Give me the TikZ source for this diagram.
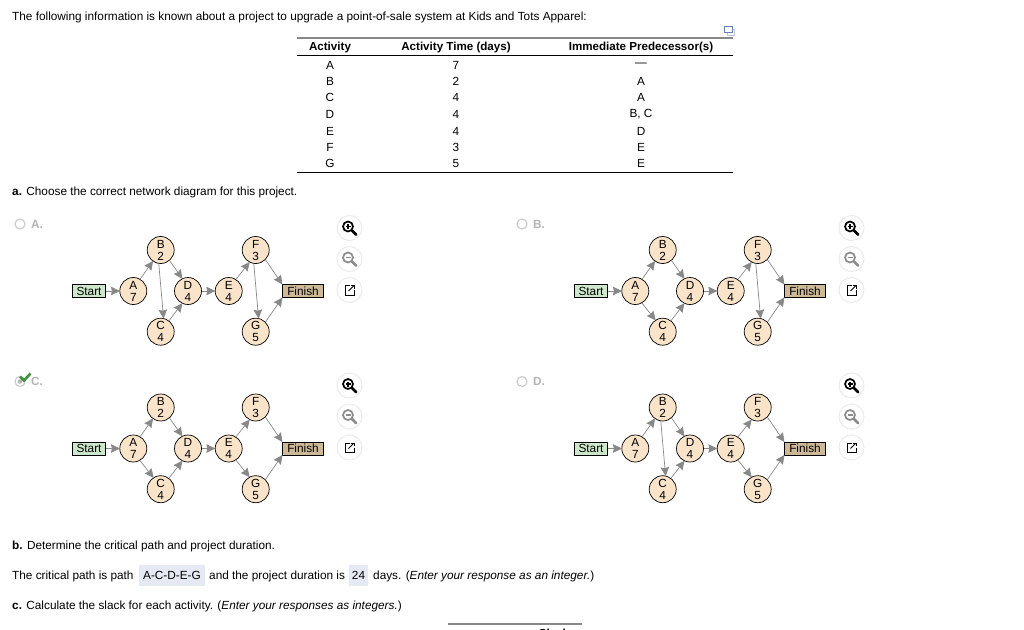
\documentclass[tikz,border=0pt]{standalone}
\usepackage{fontspec}
\setmainfont{Liberation Sans}
\usetikzlibrary{arrows.meta}
\definecolor{actfill}{HTML}{F9E3C9}
\definecolor{startfill}{HTML}{CDE8CB}
\definecolor{finfill}{HTML}{CDB998}
\definecolor{edgegray}{HTML}{888888}
\definecolor{ansfill}{HTML}{E4E9F3}
\definecolor{optgray}{HTML}{B4B4B4}
\definecolor{okgreen}{HTML}{3F9142}
\definecolor{copyblue}{HTML}{6A7FB5}
\tikzset{
  txt/.style={anchor=base west,inner sep=0pt,font=\fontsize{11.8}{13}\selectfont},
  cell/.style={inner sep=0pt,font=\fontsize{11.8}{13}\selectfont},
  headcell/.style={inner sep=0pt,font=\fontsize{11.6}{13}\selectfont\bfseries},
  ansbox/.style={fill=ansfill,minimum height=21pt,inner sep=0pt,font=\fontsize{11.8}{13}\selectfont},
  act/.style={circle,draw,fill=actfill,minimum size=27pt,inner sep=0pt,align=center,line width=.7pt,font=\fontsize{11.8}{12}\selectfont},
  startbox/.style={draw,fill=startfill,minimum width=33pt,minimum height=13pt,inner sep=0pt,line width=.7pt,font=\fontsize{11.8}{12}\selectfont},
  finbox/.style={draw,fill=finfill,minimum width=41pt,minimum height=13pt,inner sep=0pt,line width=.7pt,font=\fontsize{11.8}{12}\selectfont},
  edge/.style={edgegray,line width=.7pt,-{Stealth[length=9pt,width=8.5pt,inset=1pt]},shorten >=-.5pt},
  btn/.style={circle,draw=black!8,line width=1pt,fill=white,minimum size=25pt,inner sep=0pt},
  radio/.style={circle,draw=black!20,line width=1.2pt,minimum size=10pt,inner sep=0pt},
  optlabel/.style={anchor=base west,inner sep=0pt,text=optgray,font=\fontsize{11.8}{13}\selectfont\bfseries}
}
% zoom button glyph: #1 name of the button, #2 colour, #3 with the plus bar or not
\newcommand{\lens}[3]{
  \draw[#2,line width=1.7pt](#1)++(-1.5,-1.5) circle (5);
  \draw[#2,line width=2.8pt,line cap=round](#1)++(2.5,2.5)--++(4.2,4.2);
  \draw[#2,line width=1.2pt](#1)++(-4,-1.5)--++(5,0);
  #3
}
% one answer option: #1 prefix, #2 dx, #3 dy, #4 letter, #5 the edges that change
\newcommand{\netpanel}[5]{
\begin{scope}[shift={(#2,#3)},name prefix=#1-]
  \node[radio](radio) at (20,224){};
  \node[optlabel](opt) at (31,228){#4.};
  \node[startbox](start) at (89,291){Start};
  \node[act](A) at (133.3,291){A\\7};
  \node[act](B) at (160.7,250){B\\2};
  \node[act](C) at (160.7,331.7){C\\4};
  \node[act](D) at (188,291){D\\4};
  \node[act](E) at (228.7,291){E\\4};
  \node[act](F) at (255.7,250){F\\3};
  \node[act](G) at (255.7,331.7){G\\5};
  \node[finbox](fin) at (303,291){Finish};
  \draw[edge](start)--(A);
  \draw[edge](A.60)--(B.235);
  \draw[edge](B.-50)--(D.115);
  \draw[edge](C.53)--(D.245);
  \draw[edge](D)--(E);
  \draw[edge](E.58)--(F.243);
  \draw[edge](F.-45)--(fin.north west);
  \draw[edge](G.45)--(fin.south west);
  #5
  \node[btn](plus) at (349.5,228){};
  \lens{plus}{black}{\draw[black,line width=1.2pt](plus)++(-1.5,-4)--++(0,5);}
  \node[btn](minus) at (349.5,259){};
  \lens{minus}{black!45}{}
  \node[btn](popout) at (349.5,290){};
  \draw[black,line width=.9pt](popout)++(.5,-4.5)--++(-5,0)--++(0,9.5)--++(9.5,0)--++(0,-5);
  \draw[black,line width=.9pt,-{Straight Barb[length=2.5pt]}](popout)++(-1,1)--++(6,-6);
\end{scope}}
\begin{document}
\begin{tikzpicture}[x=1pt,y=-1pt]
\useasboundingbox[fill=white](0,0) rectangle (1024,629);
\node[txt](intro) at (12,20){The following information is known about a project to upgrade a point-of-sale system at Kids and Tots Apparel:};
% table
\draw[edgegray,line width=1.2pt](297,38)--(733,38);
\draw[black,line width=1.8pt](297,55.5)--(733,55.5);
\draw[black,line width=.8pt](297,172.5)--(733,172.5);
\node[headcell](h1) at (330,47.5){Activity};
\node[headcell](h2) at (456,47.5){Activity Time (days)};
\node[headcell](h3) at (641,47.5){Immediate Predecessor(s)};
\foreach \name/\time/\pred/\y in {A/7/---/65,B/2/A/81.5,C/4/A/97.5,D/4/{B, C}/114.5,E/4/D/131,F/3/E/147.5,G/5/E/163.5}{
  \node[cell](act\name) at (330,\y){\name};
  \node[cell](time\name) at (456,\y){\time};
  \node[cell](pred\name) at (641,\y){\pred};
}
% copy icon
\draw[copyblue!45,line width=1pt,fill=white](727,29) rectangle (734,35);
\draw[copyblue,line width=1pt,fill=white](724,26.5) rectangle (732,32);
\node[txt](parta) at (12,195){\textbf{a.} Choose the correct network diagram for this project.};
\netpanel{pa}{0}{0}{A}{\draw[edge](B.-98)--(C.78);\draw[edge](F.-98)--(G.78);}
\netpanel{pb}{502}{0}{B}{\draw[edge](A.-61)--(C.122);\draw[edge](F.-98)--(G.78);}
\netpanel{pc}{0}{157.5}{C}{\draw[edge](A.-61)--(C.122);\draw[edge](E.-58)--(G.117);}
\netpanel{pd}{502}{157.5}{D}{\draw[edge](B.-98)--(C.78);\draw[edge](E.-58)--(G.117);}
% chosen answer
\node[circle,fill=optgray,minimum size=4.5pt,inner sep=0pt](tick) at (20,381.5){};
\draw[okgreen,line width=2.6pt](20,376.5)--(24,380.5)--(30.5,373.5);
% parts b and c
\node[txt](partb) at (12,549){\textbf{b.} Determine the critical path and project duration.};
\node[txt](path1) at (12,579){The critical path is path};
\node[ansbox,minimum width=66pt](ans1) at (172,575){A-C-D-E-G};
\node[txt](path2) at (209,579){and the project duration is};
\node[ansbox,minimum width=19pt](ans2) at (358.5,575){24};
\node[txt](path3) at (373,579){days. (\textit{Enter your response as an integer.})};
\node[txt](partc) at (12,609){\textbf{c.} Calculate the slack for each activity. (\textit{Enter your responses as integers.})};
\draw[edgegray,line width=1.2pt](448,624)--(582,624);
\node[headcell](slack) at (554,633.5){Slack};
\end{tikzpicture}
\end{document}
